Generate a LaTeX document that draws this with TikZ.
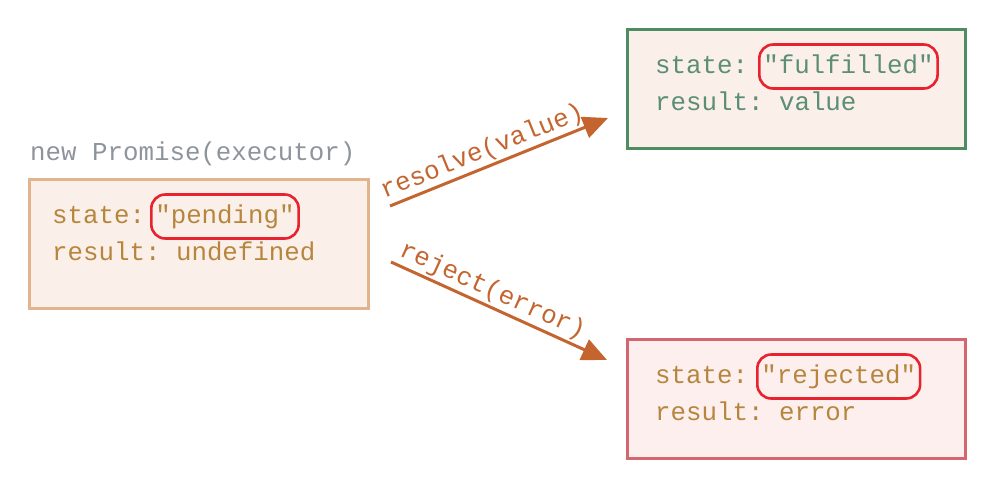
\documentclass[tikz,border=0pt]{standalone}
\usepackage{fontspec}
\setmonofont{Liberation Mono}
\usetikzlibrary{arrows.meta}
\definecolor{pendborder}{HTML}{E2B48D}
\definecolor{boxfill}{HTML}{FBF0E9}
\definecolor{txtbrown}{HTML}{B7863E}
\definecolor{txtgray}{HTML}{8E949C}
\definecolor{okborder}{HTML}{4E8C62}
\definecolor{txtgreen}{HTML}{5B8E74}
\definecolor{errborder}{HTML}{D4666F}
\definecolor{errfill}{HTML}{FDEFEE}
\definecolor{arrowcol}{HTML}{C4652F}
\definecolor{markred}{HTML}{E8232F}
\tikzset{
  statebox/.style={draw, line width=3pt, anchor=north west, inner sep=0pt},
  code/.style={font=\ttfamily\fontsize{25.8}{30}\selectfont, inner sep=0pt, anchor=base west, text height=18pt, text depth=5pt},
  valmark/.style={code, draw=markred, line width=2.6pt, rounded corners=14pt, inner xsep=4pt, minimum height=44pt},
  trans/.style={draw=arrowcol, line width=3pt, -{Triangle[length=25pt,width=22pt]}},
  translabel/.style={font=\ttfamily\fontsize{25.8}{30}\selectfont, text=arrowcol, sloped, above, inner sep=2pt}
}
\begin{document}
\begin{tikzpicture}[x=1pt,y=-1pt]
\useasboundingbox (0,0) rectangle (994,499);
% pending
\node[code, text=txtgray] (title) at (30,160) {new Promise(executor)};
\node[statebox, draw=pendborder, fill=boxfill, minimum width=339pt, minimum height=129pt] (pend) at (28,178) {};
\node[code, text=txtbrown] (pstate) at (52,223) {state:};
\node[valmark, text=txtbrown] (pval) at (150,223) {"pending"};
\node[code, text=txtbrown] (pres) at (52,260) {result: undefined};
% fulfilled
\node[statebox, draw=okborder, fill=boxfill, minimum width=338pt, minimum height=119pt] (ok) at (626,28) {};
\node[code, text=txtgreen] (ostate) at (655,73) {state:};
\node[valmark, text=txtgreen] (oval) at (758,73) {"fulfilled"};
\node[code, text=txtgreen] (ores) at (655,110) {result: value};
% rejected
\node[statebox, draw=errborder, fill=errfill, minimum width=338pt, minimum height=119pt] (err) at (626,338) {};
\node[code, text=txtbrown] (estate) at (655,383) {state:};
\node[valmark, text=txtbrown] (eval) at (756,383) {"rejected"};
\node[code, text=txtbrown] (eres) at (655,420) {result: error};
% arrows
\coordinate (r1) at (390,206);
\coordinate (r2) at (608,118);
\coordinate (j1) at (391,262);
\coordinate (j2) at (607,360);
\draw[trans] (r1) -- node[translabel, pos=0.45] (rl) {resolve(value)} (r2);
\draw[trans] (j1) -- node[translabel, pos=0.44] (jl) {reject(error)} (j2);
\end{tikzpicture}
\end{document}
